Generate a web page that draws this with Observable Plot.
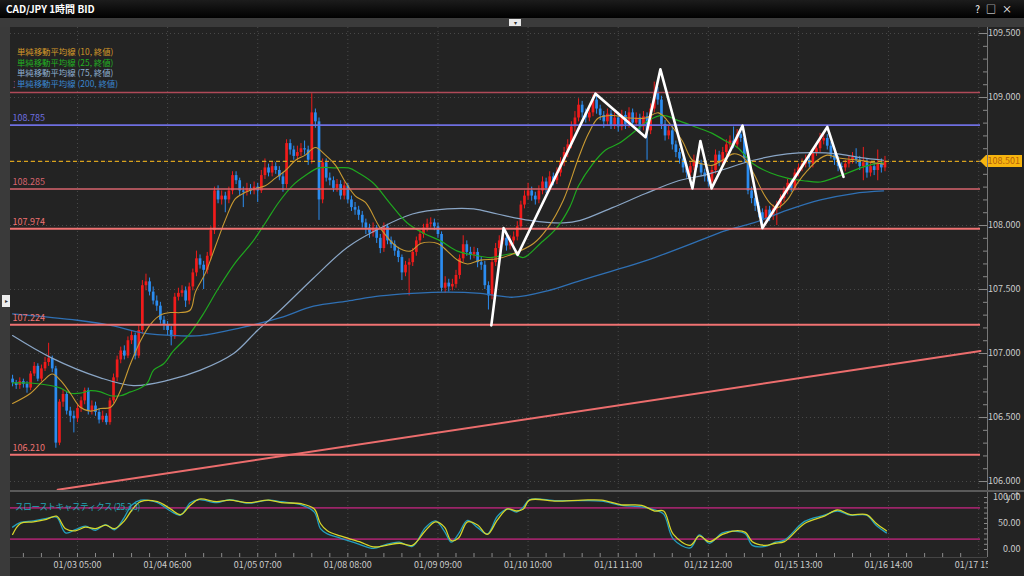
<!DOCTYPE html>
<html><head><meta charset="utf-8">
<script src="https://cdn.jsdelivr.net/npm/d3@7"></script>
<script src="https://cdn.jsdelivr.net/npm/@observablehq/plot@0.6"></script>
<style>
body{margin:0;background:#000;width:1024px;height:576px;overflow:hidden;font-family:"Noto Sans CJK JP","Noto Sans",sans-serif;}
#wrap{position:relative;width:1024px;height:576px;background:#232323;overflow:hidden;}
#main,#stoch{position:absolute;left:0;}
#main{top:0;} #stoch{top:490px;}
.titlebar{position:absolute;left:0;top:0;width:1024px;height:18px;background:linear-gradient(#1c1c1c,#000);color:#fff;font-weight:bold;font-size:10px;line-height:18px;padding-left:6px;box-sizing:border-box;}
.icons{position:absolute;right:6px;top:0;font-weight:normal;font-size:10px;letter-spacing:6px;}
.strip{position:absolute;left:0;top:18px;width:1024px;height:9px;background:#3b3b3b;}
.strip .btn{position:absolute;left:509px;top:1px;width:12px;height:7px;background:#e8e8e8;color:#333;font-size:6px;line-height:7px;text-align:center;}
.leftbar{position:absolute;left:0;top:27px;width:10px;height:549px;background:#3a3a3a;}
.leftbar .lbtn{position:absolute;left:2px;top:268px;width:8px;height:12px;background:#eee;color:#333;font-size:6px;line-height:12px;text-align:center;}
.sep{position:absolute;left:10px;top:490px;width:1014px;height:2px;background:#5a5a5a;}
.sep2{position:absolute;left:10px;top:557px;width:977px;height:1px;background:#444;}
.vaxis{position:absolute;left:987px;width:1px;background:#777;}
.legend{position:absolute;left:15px;top:46px;font-size:8.4px;line-height:10.7px;background:#232323;padding:0 2px;}
.stochlabel{position:absolute;left:15px;top:500px;font-size:8.6px;color:#22a6b8;letter-spacing:-0.4px;}
.cover{position:absolute;left:988px;top:558px;width:36px;height:18px;background:#232323;}
</style></head>
<body><div id="wrap">
<div id="main"></div>
<div id="stoch"></div>
<div class="titlebar">CAD/JPY 1時間 BID<span class="icons">?□×</span></div>
<div class="strip"><div class="btn">▾</div></div>
<div class="leftbar"><div class="lbtn">▸</div></div>
<div class="sep"></div>
<div class="sep2"></div>
<div class="vaxis" style="top:27px;height:463px"></div>
<div class="vaxis" style="top:492px;height:65px"></div>
<div class="cover"></div>
<div class="legend">
<div style="color:#d49a2a">単純移動平均線 (10, 終値)</div>
<div style="color:#22b022">単純移動平均線 (25, 終値)</div>
<div style="color:#8fb0d2">単純移動平均線 (75, 終値)</div>
<div style="color:#3a86d0">単純移動平均線 (200, 終値)</div>
</div>
<div class="stochlabel">スローストキャスティクス (25,3,3)</div>
</div>
<script>
// ---------- DATA ----------
const firstOpen = 106.80;
const closes = [
106.77,106.75,106.78,106.76,106.73,106.84,106.90,106.80,106.88,106.93,
106.96,106.88,106.30,106.62,106.68,106.55,106.51,106.49,106.57,106.63,
106.71,106.55,106.59,106.54,106.48,106.51,106.46,106.63,106.81,106.95,
107.02,106.98,107.10,107.14,106.98,107.18,107.53,107.56,107.48,107.41,
107.37,107.26,107.22,107.18,107.13,107.44,107.47,107.49,107.41,107.52,
107.63,107.74,107.69,107.65,107.76,107.96,108.27,108.20,108.23,108.20,
108.27,108.39,108.35,108.27,108.26,108.29,108.27,108.30,108.27,108.39,
108.45,108.41,108.46,108.43,108.38,108.32,108.64,108.59,108.54,108.57,
108.60,108.59,108.51,108.88,108.81,108.20,108.49,108.37,108.35,108.29,
108.32,108.23,108.31,108.20,108.14,108.12,108.08,108.02,107.98,107.94,
107.98,107.90,107.82,107.99,107.88,107.85,107.80,107.75,107.63,107.69,
107.71,107.79,107.88,107.93,107.98,108.01,108.02,107.99,107.93,107.51,
107.55,107.52,107.54,107.61,107.74,107.85,107.79,107.77,107.79,107.71,
107.69,107.53,107.45,107.71,107.82,107.88,107.90,107.84,107.88,107.91,
107.99,108.16,108.23,108.27,108.23,108.20,108.27,108.34,108.29,108.38,
108.35,108.41,108.49,108.57,108.63,108.77,108.84,108.94,108.88,108.84,
108.88,108.98,108.91,108.86,108.81,108.87,108.78,108.84,108.77,108.86,
108.79,108.88,108.80,108.84,108.77,108.85,108.74,108.91,109.04,108.98,
108.79,108.70,108.74,108.63,108.57,108.52,108.45,108.41,108.46,108.51,
108.48,108.41,108.38,108.34,108.43,108.55,108.49,108.57,108.63,108.66,
108.63,108.71,108.68,108.52,108.27,108.21,108.15,108.10,108.05,108.12,
108.07,108.13,108.16,108.21,108.27,108.33,108.29,108.41,108.45,108.48,
108.51,108.48,108.57,108.60,108.66,108.68,108.62,108.55,108.51,108.46,
108.45,108.48,108.51,108.53,108.51,108.46,108.49,108.41,108.46,108.43,
108.48,108.45,108.50];
const highs = [
106.83,106.79,106.81,106.80,106.78,106.86,106.93,106.92,106.91,106.97,
107.08,106.98,106.90,106.64,106.72,106.70,106.58,106.55,106.60,106.66,
106.73,106.73,106.63,106.62,106.57,106.55,106.53,106.65,106.84,106.98,
107.05,107.06,107.13,107.18,107.16,107.22,107.57,107.62,107.59,107.52,
107.45,107.40,107.29,107.25,107.21,107.47,107.51,107.53,107.52,107.55,
107.66,107.80,107.77,107.72,107.79,107.99,108.30,108.31,108.27,108.26,
108.30,108.42,108.42,108.37,108.30,108.33,108.32,108.34,108.33,108.43,
108.52,108.48,108.50,108.49,108.46,108.41,108.67,108.67,108.62,108.62,
108.64,108.66,108.62,109.03,108.91,108.84,108.52,108.52,108.41,108.38,
108.36,108.35,108.34,108.33,108.23,108.18,108.15,108.11,108.05,108.01,
108.02,108.00,107.93,108.02,108.01,107.91,107.88,107.83,107.77,107.72,
107.74,107.82,107.91,107.96,108.01,108.05,108.06,108.05,108.02,107.95,
107.60,107.58,107.58,107.65,107.77,107.92,107.88,107.83,107.83,107.82,
107.75,107.72,107.56,107.74,107.86,107.92,107.95,107.93,107.92,107.95,
108.03,108.19,108.27,108.33,108.30,108.26,108.31,108.38,108.37,108.42,
108.41,108.45,108.53,108.61,108.67,108.81,108.89,108.99,108.97,108.91,
108.92,109.02,109.01,108.94,108.89,108.91,108.90,108.88,108.87,108.90,
108.89,108.92,108.91,108.88,108.87,108.89,108.88,108.95,109.12,109.08,
109.01,108.82,108.78,108.77,108.66,108.60,108.55,108.48,108.49,108.55,
108.54,108.51,108.44,108.41,108.46,108.59,108.58,108.61,108.67,108.70,
108.77,108.75,108.74,108.71,108.55,108.30,108.24,108.18,108.13,108.15,
108.15,108.16,108.19,108.24,108.30,108.36,108.36,108.44,108.48,108.52,
108.55,108.54,108.60,108.64,108.72,108.73,108.71,108.65,108.58,108.54,
108.49,108.51,108.54,108.57,108.60,108.54,108.61,108.52,108.50,108.49,
108.59,108.52,108.54];
const lows = [
106.74,106.72,106.72,106.73,106.69,106.71,106.82,106.78,106.78,106.86,
106.90,106.85,106.26,106.28,106.58,106.52,106.46,106.38,106.46,106.54,
106.60,106.52,106.52,106.51,106.45,106.46,106.44,106.44,106.61,106.78,
106.92,106.95,106.96,107.07,106.95,106.96,107.15,107.49,107.45,107.38,
107.33,107.23,107.18,107.14,107.06,107.11,107.41,107.44,107.36,107.38,
107.49,107.60,107.66,107.50,107.62,107.73,107.93,108.17,108.16,108.10,
108.17,108.24,108.32,108.23,108.14,108.23,108.24,108.24,108.18,108.25,
108.36,108.38,108.38,108.40,108.35,108.26,108.29,108.55,108.51,108.51,
108.54,108.55,108.47,108.48,108.76,108.04,108.17,108.34,108.31,108.26,
108.26,108.20,108.20,108.17,108.11,108.08,108.04,107.98,107.93,107.90,
107.91,107.86,107.78,107.79,107.85,107.82,107.76,107.71,107.57,107.60,
107.45,107.68,107.76,107.85,107.90,107.95,107.98,107.96,107.90,107.48,
107.47,107.48,107.49,107.51,107.58,107.71,107.76,107.73,107.74,107.67,
107.65,107.50,107.34,107.42,107.68,107.79,107.85,107.80,107.81,107.85,
107.88,107.96,108.13,108.20,108.19,108.16,108.17,108.24,108.25,108.26,
108.31,108.32,108.38,108.46,108.53,108.60,108.73,108.81,108.84,108.80,
108.81,108.85,108.87,108.82,108.76,108.78,108.75,108.75,108.73,108.74,
108.75,108.76,108.77,108.77,108.73,108.74,108.51,108.71,108.88,108.94,
108.75,108.66,108.67,108.59,108.53,108.48,108.41,108.37,108.38,108.43,
108.45,108.38,108.34,108.30,108.31,108.40,108.46,108.46,108.54,108.60,
108.60,108.60,108.65,108.49,108.24,108.17,108.11,108.06,108.00,108.02,
108.03,108.04,108.00,108.13,108.18,108.24,108.26,108.27,108.38,108.42,
108.45,108.45,108.45,108.54,108.57,108.63,108.59,108.52,108.47,108.42,
108.41,108.42,108.45,108.48,108.48,108.43,108.35,108.37,108.38,108.39,
108.35,108.41,108.42];

const ma10Idx = [0,5,8.6,11,13.3,16,18.8,21.6,24.4,27.2,29.9,32.7,35.5,38.3,41,43.8,46.6,49.3,50.7,53.5,56.3,59.1,61.8,64.6,67.4,70.1,72.9,75.7,78.5,81.2,84,86.8,89.6,92.3,95.1,97.9,102,106.8,110.4,113.2,117.9,120.6,123.4,126.2,129.8,134.5,138.9,144.5,148.4,152.8,157,159.8,162.5,166.4,170.8,175.6,179.2,183,185.8,188.6,191.4,194.1,196.9,200,202.8,205.5,208.3,210.3,212.2,214.9,217.7,220.5,223.3,226,228.8,231.6,235.2,238.8,241.6];
const ma10Val = [106.61,106.69,106.79,106.84,106.79,106.69,106.58,106.55,106.57,106.58,106.71,106.92,107.10,107.23,107.30,107.32,107.32,107.34,107.48,107.63,107.84,108.05,108.21,108.26,108.29,108.31,108.37,108.43,108.51,108.55,108.61,108.55,108.47,108.34,108.23,108.18,107.98,107.83,107.80,107.86,107.86,107.80,107.73,107.70,107.73,107.74,107.78,107.86,107.98,108.20,108.53,108.72,108.84,108.86,108.84,108.84,108.88,108.77,108.66,108.51,108.48,108.47,108.51,108.56,108.53,108.41,108.25,108.17,108.14,108.20,108.33,108.43,108.51,108.55,108.53,108.52,108.51,108.49,108.48];
const ma25Idx = [0,5,10.5,13.3,16,18.8,21.6,24.4,27.2,29.9,32.7,35.5,37.4,39.1,41.9,44.6,47.4,49.3,52.7,57.1,61.8,66.5,70.1,73.8,77.6,81.2,84.9,89.6,93.2,96,100.1,104.8,109.5,114,118.7,123.4,127.9,132.6,138.9,141.7,146.4,150.9,154.5,157,160.9,164.5,168.1,172.8,176.4,180.3,184.7,189.4,194.1,197.8,201.1,205.5,210.3,214.9,219.4,224.1,227.7,231.6,235.2,238.8,241.6];
const ma25Val = [106.77,106.77,106.75,106.73,106.69,106.69,106.71,106.70,106.67,106.67,106.70,106.73,106.77,106.87,106.92,107.02,107.10,107.16,107.30,107.51,107.71,107.87,108.02,108.18,108.31,108.39,108.45,108.45,108.45,108.41,108.33,108.17,108.02,107.94,107.88,107.80,107.77,107.75,107.78,107.75,107.86,107.98,108.14,108.31,108.48,108.59,108.64,108.74,108.82,108.86,108.82,108.77,108.72,108.66,108.61,108.48,108.41,108.37,108.35,108.34,108.37,108.41,108.45,108.48,108.49];
const ma75Idx = [0,10.5,24.4,33.5,43,52.1,61.3,67.9,74.3,83.5,92.9,102,110.9,120.6,127.9,134.5,143.5,152.8,157.5,166.4,175.6,184.7,191.4,196.4,205.5,214.9,222.2,228.8,235.2,241.6];
const ma75Val = [107.14,106.97,106.81,106.75,106.79,106.87,107.00,107.18,107.34,107.59,107.83,107.98,108.09,108.13,108.13,108.09,108.04,108.02,108.04,108.14,108.25,108.35,108.39,108.43,108.51,108.56,108.57,108.56,108.53,108.51];
const ma200Idx = [0,18,27.2,36.3,45.7,52.1,63.2,74.3,83.5,92.9,102,110.9,120.6,129.8,138.9,148.4,157.5,165.8,176.1,190.3,197.8,205.5,214.9,224.1,233.3,241.6];
const ma200Val = [107.31,107.26,107.22,107.16,107.14,107.14,107.20,107.28,107.37,107.41,107.45,107.47,107.48,107.47,107.44,107.49,107.57,107.64,107.73,107.88,107.96,108.02,108.12,108.20,108.25,108.27];

const levelVals = [109.04, 108.785, 108.285, 107.974, 107.224, 106.210];
const levelLabels = ["109.040","108.785","108.285","107.974","107.224","106.210"];
const lastPrice = 108.501;
const trendIdx = [12.5, 268.5];
const trendVal = [105.935, 107.02];
const zigIdx = [132.8,136.2,140.1,161.7,175.6,179.7,188.6,190.8,193.9,202.5,208.0,226.0,230.5];
const zigVal = [107.22,107.98,107.77,109.03,108.69,109.22,108.29,108.66,108.29,108.78,107.98,108.77,108.38];

const stochIdx = [0,2.2,5.8,9.4,12.2,14.7,17.4,20.2,23,25.8,28.3,31,33,35.5,40.2,43.8,46.6,49.3,51.8,56.6,60.2,65.4,71,74.6,80.1,83.7,85.4,87.3,90.9,96.2,100.1,103.7,107.3,110.9,114.5,117.3,119.8,121.7,123.7,126.2,129,131.7,134.5,137.3,139.8,141.7,143.4,150.9,158.1,163.4,168.9,174.5,178.1,180.6,183.3,188,190.5,193.3,196.9,200.5,203.3,205.2,208.8,211.6,214.1,219.7,225.2,228.8,232.4,236.9,239.6,242.4];
const stochD = [29,50,53,58,64,40,36,43,40,47,40,55,75,92,92,78,67,85,97,92,95,90,95,90,88,78,50,36,26,15,5,8,12,8,36,53,43,17,22,53,47,29,57,78,74,78,95,93,95,95,86,85,74,74,29,8,26,15,29,36,33,15,8,12,15,50,64,76,67,67,50,36];
const stochK = [43,52,55,60,62,32,38,45,37,48,38,62,85,95,90,74,66,90,96,90,96,89,95,92,86,72,40,30,22,10,2,10,14,6,42,55,35,14,30,56,42,30,64,78,72,82,96,94,94,93,85,82,76,68,20,3,28,12,32,35,30,8,6,14,18,54,66,74,66,66,46,32];

const priceTicks = [106, 106.5, 107, 107.5, 108, 108.5, 109, 109.5];
const stochTicks = [0, 50, 100];
const stochLevels = [80, 20];
const xLabelIdx = [18, 43, 68, 93, 118, 143, 168, 193, 218, 243, 268];
const xLabels = ["01/03 05:00","01/04 06:00","01/05 07:00","01/08 08:00","01/09 09:00","01/10 10:00","01/11 11:00","01/12 12:00","01/15 13:00","01/16 14:00","01/17 15:00"];

// ---------- STYLES ----------
const UP = "#f01b1b", DOWN = "#2b8cf0";
const levelColors = ["#b04a58","#6f6fe0","#d8646e","#f07272","#f07272","#f07272"];
const levelWidths = [1.5, 1.8, 1.6, 2, 2, 2];
const AXFONT = '"Liberation Sans Narrow","Noto Sans CJK JP","Noto Sans",sans-serif';
const XDOM = [-0.58, 268.5];

// ---------- BUILD ----------
const candles = closes.map((c, i) => ({i, open: i ? closes[i - 1] : firstOpen, close: c, high: highs[i], low: lows[i]}));
const col = d => d.close >= d.open ? UP : DOWN;
const pts = (xs, ys) => xs.map((x, k) => ({x, y: ys[k]}));
const xLabelMap = new Map(xLabelIdx.map((d, k) => [d, xLabels[k]]));

const main = Plot.plot({
  width: 1024, height: 491, marginTop: 27, marginBottom: 1, marginLeft: 10, marginRight: 44,
  style: {background: "transparent", color: "#cfcfcf", fontSize: "9px", fontFamily: AXFONT},
  x: {domain: XDOM, axis: null},
  y: {domain: [105.93, 109.547], axis: null},
  color: {type: "identity"},
  marks: [
    Plot.gridY(priceTicks, {stroke: "#4a4a4a", strokeOpacity: 1, strokeDasharray: "1,3"}),
    Plot.gridX(xLabelIdx, {stroke: "#4a4a4a", strokeOpacity: 1, strokeDasharray: "1,3"}),
    Plot.ruleX(candles, {x: "i", y1: "low", y2: "high", stroke: col, strokeWidth: 1}),
    Plot.ruleX(candles, {x: "i", y1: "open", y2: d => Math.abs(d.close - d.open) < 0.008 ? d.open + 0.008 : d.close, stroke: col, strokeWidth: 2.7}),
    Plot.line(pts(ma200Idx, ma200Val), {x: "x", y: "y", stroke: "#2f70b4", strokeWidth: 1.3, curve: "catmull-rom"}),
    Plot.line(pts(ma75Idx, ma75Val), {x: "x", y: "y", stroke: "#8aa6c6", strokeWidth: 1.2, curve: "catmull-rom"}),
    Plot.line(pts(ma25Idx, ma25Val), {x: "x", y: "y", stroke: "#1fa81f", strokeWidth: 1.2, curve: "catmull-rom"}),
    Plot.line(pts(ma10Idx, ma10Val), {x: "x", y: "y", stroke: "#c99a32", strokeWidth: 1.1, curve: "catmull-rom"}),
    Plot.ruleY(levelVals, {y: d => d, stroke: (d, k) => levelColors[k], strokeWidth: (d, k) => levelWidths[k]}),
    Plot.text(levelVals, {y: d => d, text: (d, k) => levelLabels[k], frameAnchor: "left", textAnchor: "start", dx: 2, dy: -7, fill: (d, k) => levelColors[k], fontSize: 9}),
    Plot.line(pts(trendIdx, trendVal), {x: "x", y: "y", stroke: "#ec6d6d", strokeWidth: 2}),
    Plot.ruleY([lastPrice], {y: d => d, stroke: "#d9a21c", strokeWidth: 1.2, strokeDasharray: "4,3"}),
    Plot.line(pts(zigIdx, zigVal), {x: "x", y: "y", stroke: "#ffffff", strokeWidth: 2.6}),
    Plot.axisY(d3.range(106, 109.55, 0.1), {anchor: "right", tickSize: 5, dx: 2, stroke: "#8a8a8a", fill: "none"}),
    Plot.axisY(priceTicks, {anchor: "right", tickSize: 9, dx: -2, stroke: "#8a8a8a", fill: "none"}),
    Plot.axisY(priceTicks, {anchor: "right", tickSize: 0, tickPadding: 40, textAnchor: "end", tickFormat: d3.format(".3f"), fill: "#cccccc"})
  ]
});
document.getElementById("main").append(main);

// last price tag, positioned with the plot's own y scale
const yp = main.scale("y").apply(lastPrice);
const tag = d3.select(main).append("g");
tag.append("path").attr("d", `M980,${yp} L986,${yp - 6} L1022,${yp - 6} L1022,${yp + 6} L986,${yp + 6} Z`).attr("fill", "#f6b40e");
tag.append("text").attr("x", 1020).attr("y", yp).attr("dy", "0.34em").attr("text-anchor", "end")
  .attr("fill", "#b4600a").attr("font-size", "9px").attr("font-family", AXFONT).text(d3.format(".3f")(lastPrice));

const stoch = Plot.plot({
  width: 1024, height: 86, marginTop: 7, marginBottom: 19, marginLeft: 10, marginRight: 44,
  style: {background: "transparent", color: "#cfcfcf", fontSize: "9px", fontFamily: AXFONT},
  x: {domain: XDOM, axis: null},
  y: {domain: [0, 100], range: [59, 7], axis: null},
  marks: [
    Plot.gridX(xLabelIdx, {stroke: "#4a4a4a", strokeOpacity: 1, strokeDasharray: "1,3"}),
    Plot.ruleY(stochLevels, {y: d => d, stroke: "#9c2468", strokeWidth: 1.6}),
    Plot.line(pts(stochIdx, stochK), {x: "x", y: "y", stroke: "#229fbe", strokeWidth: 1.3, curve: "catmull-rom"}),
    Plot.line(pts(stochIdx, stochD), {x: "x", y: "y", stroke: "#d6d62a", strokeWidth: 1.3, curve: "catmull-rom"}),
    Plot.axisY(d3.range(0, 101, 10), {anchor: "right", tickSize: 4, dx: 3, stroke: "#8a8a8a", fill: "none"}),
    Plot.axisY(stochTicks, {anchor: "right", tickSize: 0, tickPadding: 40, textAnchor: "end", tickFormat: d3.format(".2f"), fill: "#cccccc"}),
    Plot.axisX(d3.range(3, 268, 5), {anchor: "bottom", tickSize: 4, dy: -4, stroke: "#8a8a8a", fill: "none"}),
    Plot.axisX(xLabelIdx, {anchor: "bottom", tickSize: 0, tickPadding: 4, tickFormat: d => xLabelMap.get(d), fill: "#cccccc"})
  ]
});
document.getElementById("stoch").append(stoch);
</script>
</body></html>
